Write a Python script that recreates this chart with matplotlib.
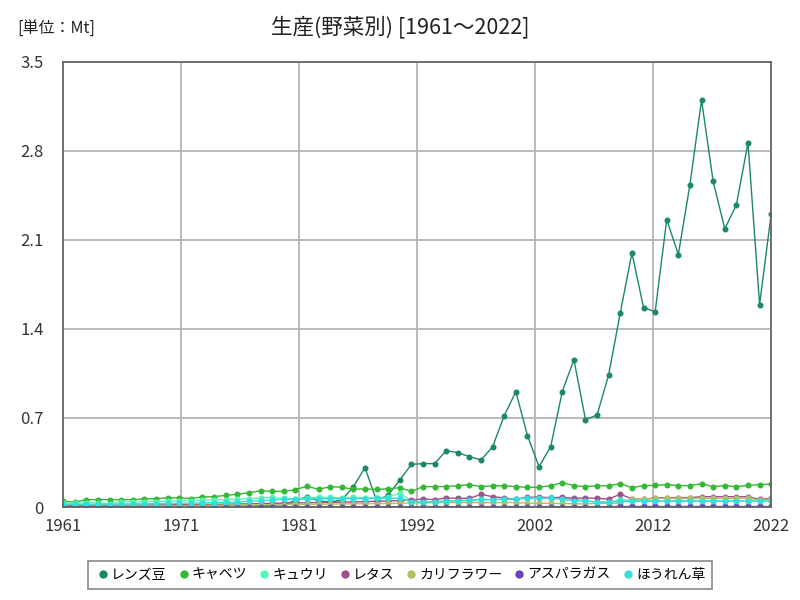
import matplotlib
matplotlib.use("Agg")
import matplotlib.pyplot as plt
import numpy as np
from matplotlib.lines import Line2D

plt.rcParams["font.family"] = ["Noto Sans CJK JP", "DejaVu Sans"]

years = np.arange(1961, 2023)

# production by vegetable (Mt)
lentil = [
    0.005, 0.005, 0.006, 0.006, 0.005, 0.005, 0.006, 0.006, 0.006, 0.007,
    0.006, 0.006, 0.007, 0.007, 0.007, 0.008, 0.008, 0.010, 0.012, 0.020,
    0.050, 0.081, 0.047, 0.039, 0.055, 0.160, 0.309, 0.050, 0.094, 0.212,
    0.335, 0.341, 0.341, 0.443, 0.427, 0.396, 0.370, 0.474, 0.718, 0.907,
    0.561, 0.317, 0.474, 0.907, 1.159, 0.687, 0.724, 1.041, 1.528, 1.998,
    1.568, 1.534, 2.260, 1.985, 2.535, 3.200, 2.559, 2.187, 2.375, 2.863,
    1.591, 2.305,
]
cabbage = [
    0.045, 0.038, 0.058, 0.058, 0.058, 0.057, 0.058, 0.064, 0.065, 0.072,
    0.073, 0.066, 0.080, 0.081, 0.092, 0.100, 0.112, 0.128, 0.123, 0.123,
    0.137, 0.163, 0.139, 0.160, 0.155, 0.140, 0.142, 0.138, 0.143, 0.152,
    0.122, 0.160, 0.160, 0.161, 0.167, 0.176, 0.160, 0.167, 0.167, 0.160,
    0.155, 0.155, 0.168, 0.192, 0.168, 0.160, 0.167, 0.167, 0.184, 0.152,
    0.168, 0.170, 0.176, 0.168, 0.168, 0.184, 0.160, 0.168, 0.160, 0.170,
    0.176, 0.181,
]
cucumber = [
    0.030, 0.030, 0.035, 0.035, 0.025, 0.040, 0.040, 0.042, 0.043, 0.045,
    0.047, 0.050, 0.052, 0.055, 0.058, 0.060, 0.065, 0.070, 0.075, 0.068,
    0.065, 0.070, 0.078, 0.075, 0.073, 0.075, 0.072, 0.073, 0.078, 0.110,
    0.045, 0.038, 0.040, 0.045, 0.045, 0.050, 0.055, 0.060, 0.060, 0.065,
    0.068, 0.070, 0.075, 0.070, 0.060, 0.050, 0.040, 0.035, 0.060, 0.050,
    0.050, 0.050, 0.050, 0.050, 0.050, 0.050, 0.050, 0.050, 0.050, 0.050,
    0.050, 0.050,
]
lettuce = [
    0.010, 0.010, 0.012, 0.012, 0.013, 0.013, 0.014, 0.015, 0.016, 0.017,
    0.018, 0.019, 0.020, 0.021, 0.022, 0.024, 0.025, 0.027, 0.029, 0.030,
    0.032, 0.033, 0.035, 0.036, 0.038, 0.040, 0.042, 0.045, 0.048, 0.050,
    0.055, 0.063, 0.058, 0.071, 0.068, 0.068, 0.100, 0.081, 0.071, 0.060,
    0.076, 0.078, 0.073, 0.076, 0.068, 0.071, 0.068, 0.063, 0.100, 0.065,
    0.060, 0.073, 0.073, 0.074, 0.074, 0.081, 0.081, 0.081, 0.081, 0.081,
    0.060, 0.068,
]
cauliflower = [
    0.005, 0.005, 0.006, 0.006, 0.007, 0.007, 0.008, 0.008, 0.009, 0.010,
    0.010, 0.011, 0.012, 0.013, 0.014, 0.015, 0.016, 0.017, 0.018, 0.019,
    0.020, 0.021, 0.022, 0.023, 0.024, 0.025, 0.026, 0.027, 0.028, 0.030,
    0.032, 0.033, 0.034, 0.035, 0.035, 0.035, 0.034, 0.034, 0.035, 0.035,
    0.030, 0.030, 0.028, 0.028, 0.025, 0.025, 0.028, 0.029, 0.030, 0.060,
    0.060, 0.068, 0.068, 0.068, 0.068, 0.068, 0.068, 0.068, 0.068, 0.068,
    0.055, 0.060,
]
asparagus = [0.002] * 31 + [0.003] * 17 + [0.004] * 14
spinach = [
    0.020, 0.020, 0.022, 0.022, 0.022, 0.023, 0.025, 0.025, 0.027, 0.028,
    0.030, 0.030, 0.032, 0.035, 0.037, 0.040, 0.045, 0.050, 0.055, 0.060,
    0.060, 0.062, 0.065, 0.065, 0.066, 0.066, 0.066, 0.067, 0.068, 0.070,
    0.040, 0.040, 0.042, 0.048, 0.050, 0.055, 0.060, 0.058, 0.060, 0.065,
    0.070, 0.072, 0.068, 0.060, 0.050, 0.045, 0.040, 0.038, 0.045, 0.045,
    0.045, 0.046, 0.046, 0.046, 0.046, 0.047, 0.047, 0.047, 0.047, 0.047,
    0.046, 0.046,
]

names = ["レンズ豆", "キャベツ", "キュウリ", "レタス", "カリフラワー", "アスパラガス", "ほうれん草"]
series = [lentil, cabbage, cucumber, lettuce, cauliflower, asparagus, spinach]
colors = ["#1b8a5e", "#33b833", "#55f5b8", "#a0508f", "#b3bf62", "#6a40c0", "#33dedb"]

fig = plt.figure(figsize=(8, 6), dpi=100)
ax = fig.add_axes([0.079, 0.155, 0.885, 0.742])

for vals, c in zip(series, colors):
    ax.plot(years, vals, color=c, lw=1.0, marker="o", ms=3.3)

ax.set_xlim(1961, 2022)
ax.set_ylim(0, 3.5)
# six equal divisions of the year range, labels rounded
xt = np.linspace(1961, 2022, 7)
ax.set_xticks(xt)
ax.set_xticklabels(["1961", "1971", "1981", "1992", "2002", "2012", "2022"])
ax.set_yticks([0, 0.7, 1.4, 2.1, 2.8, 3.5])
ax.set_yticklabels(["0", "0.7", "1.4", "2.1", "2.8", "3.5"])
ax.tick_params(length=0, labelsize=12, colors="#333333")
ax.tick_params(axis="y", pad=14)
ax.tick_params(axis="x", pad=8)
ax.grid(True, color="#b4b4b4", lw=1.3)
ax.set_axisbelow(True)
for s in ax.spines.values():
    s.set_color("#666666")
    s.set_linewidth(1.3)

fig.text(0.5, 0.955, "生産(野菜別) [1961～2022]", ha="center", va="center", fontsize=15.5, color="#222222")
fig.text(0.022, 0.952, "[単位：Mt]", ha="left", va="center", fontsize=11.5, color="#222222")

handles = [Line2D([], [], color=c, marker="o", ls="none", ms=5) for c in colors]
leg = fig.legend(handles, names, loc="center", bbox_to_anchor=(0.5, 0.042), ncol=7,
                 fontsize=10, handletextpad=0.0, handlelength=1.2, columnspacing=0.6,
                 frameon=True, fancybox=False, borderpad=0.5)
leg.get_frame().set_edgecolor("#777777")
leg.get_frame().set_linewidth(1.3)

fig.savefig("out.png", dpi=100)
